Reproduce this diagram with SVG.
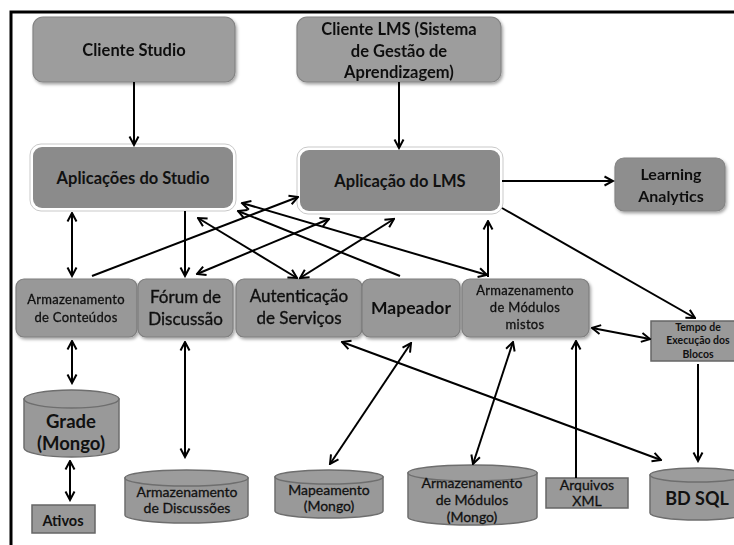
<svg xmlns="http://www.w3.org/2000/svg" width="734" height="545" viewBox="0 0 734 545">
  <style>
    text { font-family: Lato, "Open Sans", "Liberation Sans", sans-serif; fill: #111; text-anchor: middle; }
    .b { font-weight: bold; }
    .r { stroke: #111; stroke-width: 0.35; }
    .s { font-size: 13px; letter-spacing: 0.3px; stroke: #111; stroke-width: 0.3; }
    .m { font-size: 14px; stroke: #111; stroke-width: 0.3; }
    .box { fill: #9d9d9d; stroke: #848484; stroke-width: 1.2; }
    .mid { fill: #989898; stroke: #7e7e7e; stroke-width: 1.2; }
    .app { fill: #8b8b8b; stroke: none; }
    .glow { fill: #ffffff; stroke: #c9c9c9; stroke-width: 1; }
    .cyl { fill: #999999; stroke: #6e6e6e; stroke-width: 1.5; }
    .cyltop { fill: #9c9c9c; stroke: #6e6e6e; stroke-width: 1.5; }
    .sq { fill: #999999; stroke: #666666; stroke-width: 1.5; }
    .c { stroke: #000; stroke-width: 2; fill: none; }
    .frame { stroke: #000; stroke-width: 3; fill: none; }
  </style>
  <defs>
    <marker id="ah" viewBox="0 0 12 12" refX="10.5" refY="6" markerWidth="12" markerHeight="12" markerUnits="userSpaceOnUse" orient="auto-start-reverse">
      <path d="M2,1.5 L10.5,6 L2,10.5" fill="none" stroke="#000" stroke-width="2"/>
    </marker>
    <filter id="sh" x="-10%" y="-10%" width="125%" height="130%">
      <feDropShadow dx="1.5" dy="2" stdDeviation="1.5" flood-color="#000" flood-opacity="0.35"/>
    </filter>
  </defs>

  <rect width="734" height="545" fill="#ffffff"/>
  <path class="frame" d="M11,545 V12 H734"/>

  <!-- top row -->
  <g id="cliente-studio" filter="url(#sh)">
    <rect class="box" x="33" y="17" width="202" height="65" rx="10"/>
    <text class="b" x="134" y="56" font-size="16.5">Cliente Studio</text>
  </g>
  <g id="cliente-lms" filter="url(#sh)">
    <rect class="box" x="297" y="17" width="204" height="65" rx="10"/>
    <text class="b" x="399" y="35" font-size="16.5">Cliente LMS (Sistema</text>
    <text class="b" x="399" y="57" font-size="16.5">de Gestão de</text>
    <text class="b" x="399" y="78" font-size="16.5">Aprendizagem)</text>
  </g>

  <!-- application layer -->
  <g id="aplicacoes-studio">
    <rect class="glow" x="30" y="144" width="206" height="67" rx="11"/>
    <rect class="app" x="33" y="147" width="200" height="61" rx="9"/>
    <text class="b" x="133" y="184" font-size="16.5">Aplicações do Studio</text>
  </g>
  <g id="aplicacao-lms">
    <rect class="glow" x="297" y="147" width="206" height="67" rx="11"/>
    <rect class="app" x="300" y="150" width="200" height="61" rx="9"/>
    <text class="b" x="400" y="187" font-size="16.5">Aplicação do LMS</text>
  </g>
  <g id="learning-analytics" filter="url(#sh)">
    <rect class="box" x="615" y="158" width="110" height="53" rx="9" style="fill:#8e8e8e"/>
    <text class="b" x="671" y="180" font-size="16">Learning</text>
    <text class="b" x="671" y="202" font-size="16">Analytics</text>
  </g>

  <!-- service row -->
  <g id="armazenamento-conteudos" filter="url(#sh)">
    <rect class="mid" x="16" y="279" width="121" height="58" rx="8"/>
    <text class="s" x="76" y="304">Armazenamento</text>
    <text class="s" x="76" y="322">de Conteúdos</text>
  </g>
  <g id="forum" filter="url(#sh)">
    <rect class="mid" x="138" y="279" width="95" height="58" rx="8"/>
    <text class="r" x="185.5" y="303" font-size="17">Fórum de</text>
    <text class="r" x="185.5" y="325" font-size="17">Discussão</text>
  </g>
  <g id="autenticacao" filter="url(#sh)">
    <rect class="mid" x="236" y="279" width="126" height="58" rx="8"/>
    <text class="r" x="299" y="302" font-size="17">Autenticação</text>
    <text class="r" x="299" y="324" font-size="17">de Serviços</text>
  </g>
  <g id="mapeador" filter="url(#sh)">
    <rect class="mid" x="362" y="279" width="98" height="58" rx="8"/>
    <text class="b" x="411" y="314" font-size="17.5">Mapeador</text>
  </g>
  <g id="modulos-mistos" filter="url(#sh)">
    <rect class="mid" x="462" y="279" width="127" height="58" rx="8"/>
    <text class="s" x="525" y="295">Armazenamento</text>
    <text class="s" x="525" y="312">de Módulos</text>
    <text class="s" x="525" y="329">mistos</text>
  </g>
  <g id="tempo-execucao">
    <rect class="sq" x="651" y="321" width="94" height="40"/>
    <text class="b" x="698" y="331" font-size="10.5">Tempo de</text>
    <text class="b" x="698" y="344" font-size="10.5">Execução dos</text>
    <text class="b" x="698" y="358" font-size="10.5">Blocos</text>
  </g>

  <!-- storage -->
  <g id="grade">
    <path class="cyl" d="M24,399 V448 A47.5,9 0 0 0 119,448 V399 Z"/>
    <ellipse class="cyltop" cx="71.5" cy="399" rx="47.5" ry="9"/>
    <text class="b" x="71" y="428" font-size="18.5">Grade</text>
    <text class="b" x="71" y="450" font-size="18.5">(Mongo)</text>
  </g>
  <g id="ativos">
    <rect class="sq" x="32" y="505" width="63" height="28"/>
    <text class="b" x="63" y="526" font-size="14.5">Ativos</text>
  </g>
  <g id="armazenamento-discussoes">
    <path class="cyl" d="M125,478 V515 A61.5,8 0 0 0 248,515 V478 Z"/>
    <ellipse class="cyltop" cx="186.5" cy="478" rx="61.5" ry="8"/>
    <text class="m" x="187" y="497">Armazenamento</text>
    <text class="m" x="187" y="513">de Discussões</text>
  </g>
  <g id="mapeamento">
    <path class="cyl" d="M275,477 V511 A54,7 0 0 0 383,511 V477 Z"/>
    <ellipse class="cyltop" cx="329" cy="477" rx="54" ry="7"/>
    <text class="m" x="329" y="495">Mapeamento</text>
    <text class="m" x="329" y="511">(Mongo)</text>
  </g>
  <g id="modulos-mongo">
    <path class="cyl" d="M408,473 V517 A64.5,8 0 0 0 537,517 V473 Z"/>
    <ellipse class="cyltop" cx="472.5" cy="473" rx="64.5" ry="8"/>
    <text class="m" x="472" y="488">Armazenamento</text>
    <text class="m" x="472" y="505">de Módulos</text>
    <text class="m" x="472" y="522">(Mongo)</text>
  </g>
  <g id="arquivos-xml">
    <rect class="sq" x="546" y="478" width="82" height="30"/>
    <text class="m" x="587" y="490">Arquivos</text>
    <text class="m" x="587" y="506">XML</text>
  </g>
  <g id="bd-sql">
    <path class="cyl" d="M650,475 V513 A47.5,7 0 0 0 745,513 V475 Z"/>
    <ellipse class="cyltop" cx="697.5" cy="475" rx="47.5" ry="7"/>
    <text class="b" x="697" y="505" font-size="18">BD SQL</text>
  </g>

  <!-- connectors -->
  <g id="connectors" class="c" marker-end="url(#ah)">
    <line x1="134" y1="82" x2="134" y2="145"/>
    <line x1="399" y1="82" x2="399" y2="148"/>
    <line x1="502" y1="181" x2="613" y2="181"/>
    <line x1="502" y1="208" x2="695" y2="318"/>
    <line x1="72" y1="213" x2="72" y2="276" marker-start="url(#ah)"/>
    <line x1="185" y1="211" x2="185" y2="276"/>
    <line x1="92" y1="276" x2="298" y2="197"/>
    <line x1="197" y1="274" x2="329" y2="219" marker-start="url(#ah)"/>
    <line x1="198" y1="218" x2="297" y2="278" marker-start="url(#ah)"/>
    <line x1="300" y1="278" x2="394" y2="219" marker-start="url(#ah)"/>
    <line x1="242" y1="203" x2="487" y2="275" marker-start="url(#ah)"/>
    <line x1="400" y1="276" x2="238" y2="211"/>
    <line x1="488" y1="277" x2="488" y2="221"/>
    <line x1="592" y1="328" x2="650" y2="339" marker-start="url(#ah)"/>
    <line x1="698" y1="364" x2="698" y2="461"/>
    <line x1="72" y1="341" x2="72" y2="383" marker-start="url(#ah)"/>
    <line x1="70" y1="461" x2="70" y2="500" marker-start="url(#ah)"/>
    <line x1="185" y1="342" x2="185" y2="457" marker-start="url(#ah)"/>
    <line x1="411" y1="343" x2="330" y2="464" marker-start="url(#ah)"/>
    <line x1="342" y1="342" x2="661" y2="460" marker-start="url(#ah)"/>
    <line x1="513" y1="342" x2="473" y2="464" marker-start="url(#ah)"/>
    <line x1="576" y1="478" x2="576" y2="341"/>
  </g>
</svg>
